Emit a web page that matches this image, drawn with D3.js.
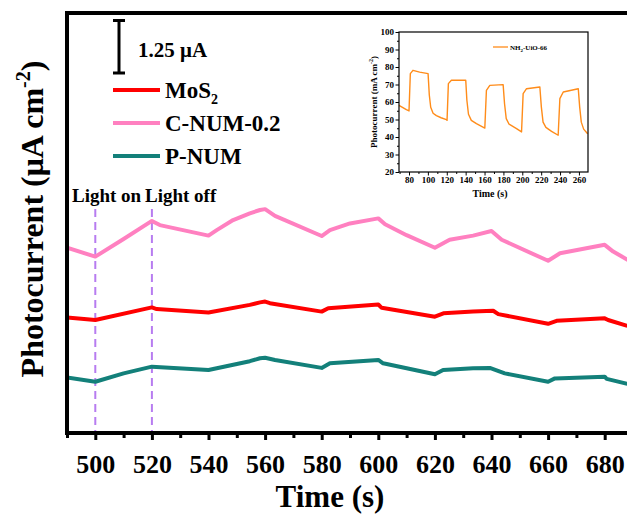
<!DOCTYPE html>
<html>
<head>
<meta charset="utf-8">
<script src="https://cdn.jsdelivr.net/npm/d3@7/dist/d3.min.js"></script>
<style>
body { margin: 0; background: #fff; }
svg { display: block; font-family: "Liberation Serif", "Times New Roman", serif; font-weight: bold; }
</style>
</head>
<body>
<svg width="627" height="514"></svg>
<script>
// main chart, time (s) and photocurrent (uA cm-2, stacked offsets)
var cnumTime  = [490, 500, 510, 520, 522.8, 540, 542.9, 548.7, 554.6, 558.2, 560, 563.5, 580, 582.9, 590, 600, 602.4, 610, 620, 625.2, 633.5, 640, 643.6, 660, 664.2, 680, 683, 688.2];
var cnumValue = [4.41, 4.20, 4.62, 5.05, 4.95, 4.70, 4.83, 5.07, 5.23, 5.31, 5.33, 5.17, 4.69, 4.83, 4.99, 5.11, 4.97, 4.71, 4.41, 4.60, 4.70, 4.81, 4.60, 4.10, 4.28, 4.48, 4.32, 4.12];

var mosTime  = [490, 500, 520, 521.7, 540, 554.6, 558.2, 560, 561.7, 580, 582.3, 600, 601.2, 620, 623, 633.5, 640.6, 642.4, 660, 663, 680, 681.2, 688];
var mosValue = [2.75, 2.69, 2.99, 2.95, 2.87, 3.05, 3.11, 3.13, 3.09, 2.89, 2.97, 3.06, 2.98, 2.77, 2.85, 2.89, 2.91, 2.83, 2.60, 2.67, 2.73, 2.69, 2.55];

var pnumTime  = [490, 500, 510, 520, 540, 554.6, 558.2, 560, 563.5, 580, 582.9, 600, 601.7, 620, 622.9, 633.5, 639.4, 644.7, 660, 662.4, 680, 680.7, 688];
var pnumValue = [1.32, 1.22, 1.42, 1.58, 1.50, 1.71, 1.78, 1.79, 1.74, 1.55, 1.66, 1.74, 1.66, 1.40, 1.50, 1.54, 1.55, 1.42, 1.22, 1.30, 1.34, 1.29, 1.17];

var lightTimes = [500, 520];
var lightLabels = ["Light on", "Light off"];
var xTicks = [500, 520, 540, 560, 580, 600, 620, 640, 660, 680];
var scaleBar = 1.25;

// inset: NH2-UiO-66, time (s) and photocurrent (mA cm-2)
var uioTime  = [69.4, 77.2, 80, 81.4, 84.2, 91.3, 100.2, 101.5, 103, 105.5, 109, 114, 119.6, 120.3, 121.7, 124.9, 140.1, 141.3, 143, 146, 151.4, 160.3, 162, 165.6, 179.7, 181.2, 183, 186, 193.9, 199.2, 200.9, 204.5, 218.6, 220.2, 222, 225, 231, 238, 239.8, 243.4, 259.3, 260.8, 262.5, 265, 269.2];
var uioValue = [58.1, 55.6, 54.9, 76.2, 78.1, 77.1, 76.2, 64, 57, 53.6, 52.2, 51, 49.9, 49.5, 70.5, 72.4, 72.4, 61, 53, 49.5, 47.6, 45.1, 66.7, 69.5, 69.9, 59, 50.5, 47.3, 44.8, 42.9, 64.8, 67.6, 68.6, 57.1, 48.5, 45.5, 43.2, 41, 61.9, 65.7, 67.6, 57.1, 48.5, 44.5, 41.9];
var insetXTicks = [80, 100, 120, 140, 160, 180, 200, 220, 240, 260];
var insetYTicks = [20, 30, 40, 50, 60, 70, 80, 90, 100];

var series = [
  {name: "MoS", sub: "2", time: mosTime, value: mosValue, color: "#ff0000"},
  {name: "C-NUM-0.2", sub: "", time: cnumTime, value: cnumValue, color: "#ff80c0"},
  {name: "P-NUM", sub: "", time: pnumTime, value: pnumValue, color: "#13807a"}
];

var svg = d3.select("svg");

// main scales, right end of the frame runs past the window
var x = d3.scaleLinear().domain([490, 690]).range([67, 633]);
var y = d3.scaleLinear().domain([0, 10]).range([433, 13]);

svg.append("clipPath").attr("id", "plotClip")
  .append("rect")
  .attr("x", x(490)).attr("y", y(10))
  .attr("width", x(690) - x(490)).attr("height", y(0) - y(10));

// light on / off markers
svg.selectAll(".light")
  .data(lightTimes)
  .enter().append("line")
  .attr("class", "light")
  .attr("x1", function(d){ return x(d); })
  .attr("x2", function(d){ return x(d); })
  .attr("y1", 209)
  .attr("y2", y(0))
  .attr("stroke", "#b77cf0")
  .attr("stroke-width", 2)
  .attr("stroke-dasharray", "8,5");

svg.selectAll(".lightLabel")
  .data(lightLabels)
  .enter().append("text")
  .attr("class", "lightLabel")
  .attr("x", function(d, i){ return i == 0 ? 72 : 145; })
  .attr("y", 202)
  .style("font-size", "19px")
  .text(function(d){ return d; });

// data lines
var line = d3.line()
  .x(function(d){ return x(d[0]); })
  .y(function(d){ return y(d[1]); });

svg.append("g").attr("clip-path", "url(#plotClip)")
  .selectAll("path")
  .data(series)
  .enter().append("path")
  .attr("fill", "none")
  .attr("stroke", function(d){ return d.color; })
  .attr("stroke-width", 4)
  .attr("stroke-linejoin", "round")
  .attr("d", function(d){ return line(d3.zip(d.time, d.value)); });

// frame
svg.append("rect")
  .attr("x", x(490)).attr("y", y(10))
  .attr("width", x(690) - x(490)).attr("height", y(0) - y(10))
  .attr("fill", "none")
  .attr("stroke", "#000")
  .attr("stroke-width", 4);

// x axis, major and minor ticks
var minorAxis = svg.append("g")
  .attr("transform", "translate(0," + y(0) + ")")
  .call(d3.axisBottom(x).tickValues(d3.range(490, 700, 20)).tickSize(5).tickFormat(""));
var xAxis = svg.append("g")
  .attr("transform", "translate(0," + y(0) + ")")
  .call(d3.axisBottom(x).tickValues(xTicks).tickSize(7));
[minorAxis, xAxis].forEach(function(g){
  g.select(".domain").remove();
  g.selectAll("line").attr("stroke", "#000").attr("stroke-width", 3);
});
xAxis.selectAll("text")
  .attr("y", 40).attr("dy", null)
  .attr("fill", "#000")
  .style("font-size", "26px")
  .style("font-family", "Liberation Serif")
  .style("font-weight", "bold");

svg.append("text")
  .attr("x", 330).attr("y", 507)
  .attr("text-anchor", "middle")
  .style("font-size", "31px")
  .text("Time (s)");

var yLabel = svg.append("text")
  .attr("transform", "translate(43,219) rotate(-90)")
  .attr("text-anchor", "middle")
  .style("font-size", "32px");
yLabel.append("tspan").text("Photocurrent (μA cm");
yLabel.append("tspan").attr("dy", -13).style("font-size", "20px").text("-2");
yLabel.append("tspan").attr("dy", 13).text(")");

// scale bar
var barBottom = 73;
var barTop = barBottom - (y(0) - y(scaleBar));
var bar = svg.append("g").attr("stroke", "#000").attr("stroke-width", 3);
bar.append("line").attr("x1", 119).attr("x2", 119).attr("y1", barTop).attr("y2", barBottom);
bar.append("line").attr("x1", 113).attr("x2", 125).attr("y1", barTop).attr("y2", barTop);
bar.append("line").attr("x1", 113).attr("x2", 125).attr("y1", barBottom).attr("y2", barBottom);
svg.append("text")
  .attr("x", 138).attr("y", 57)
  .style("font-size", "21px")
  .text(scaleBar + " μA");

// legend
var legendG = svg.selectAll(".legend")
  .data(series)
  .enter().append("g")
  .attr("class", "legend")
  .attr("transform", function(d, i){
    return "translate(113," + [90, 123, 156][i] + ")";
  });
legendG.append("line")
  .attr("x1", 0).attr("x2", 47)
  .attr("stroke", function(d){ return d.color; })
  .attr("stroke-width", 4);
var legendText = legendG.append("text")
  .attr("x", 52).attr("y", 8)
  .style("font-size", "23px");
legendText.append("tspan").text(function(d){ return d.name; });
legendText.append("tspan")
  .attr("dy", 6)
  .style("font-size", "14px")
  .text(function(d){ return d.sub; });

// inset chart
var ix = d3.scaleLinear().domain([69.4, 269.6]).range([399, 588]);
var iy = d3.scaleLinear().domain([20, 100]).range([172, 32]);
var inset = svg.append("g");

inset.append("path")
  .attr("fill", "none")
  .attr("stroke", "#ff8c1a")
  .attr("stroke-width", 1.4)
  .attr("stroke-linejoin", "round")
  .attr("d", d3.line()
    .x(function(d){ return ix(d[0]); })
    .y(function(d){ return iy(d[1]); })(d3.zip(uioTime, uioValue)));

inset.append("rect")
  .attr("x", 399).attr("y", 32)
  .attr("width", 189).attr("height", 140)
  .attr("fill", "none")
  .attr("stroke", "#000")
  .attr("stroke-width", 1.2);

var ixMinor = inset.append("g").attr("transform", "translate(0,172)")
  .call(d3.axisBottom(ix).tickValues(d3.range(70, 270, 20)).tickSize(2).tickFormat(""));
var ixAxis = inset.append("g").attr("transform", "translate(0,172)")
  .call(d3.axisBottom(ix).tickValues(insetXTicks).tickSize(3.5).tickPadding(1.5));
var iyMinor = inset.append("g").attr("transform", "translate(399,0)")
  .call(d3.axisLeft(iy).tickValues(d3.range(25, 100, 10)).tickSize(2).tickFormat(""));
var iyAxis = inset.append("g").attr("transform", "translate(399,0)")
  .call(d3.axisLeft(iy).tickValues(insetYTicks).tickSize(3.5).tickPadding(1.5));
[ixMinor, ixAxis, iyMinor, iyAxis].forEach(function(g){
  g.select(".domain").remove();
  g.selectAll("line").attr("stroke", "#000").attr("stroke-width", 1);
  g.selectAll("text")
    .attr("fill", "#000")
    .style("font-size", "9px")
    .style("font-family", "Liberation Serif")
    .style("font-weight", "bold");
});

inset.append("text")
  .attr("x", 490).attr("y", 197)
  .attr("text-anchor", "middle")
  .style("font-size", "10px")
  .text("Time (s)");

var iyLabel = inset.append("text")
  .attr("transform", "translate(377,102) rotate(-90)")
  .attr("text-anchor", "middle")
  .style("font-size", "9px");
iyLabel.append("tspan").text("Photocurrent (mA cm");
iyLabel.append("tspan").attr("dy", -4).style("font-size", "6px").text("-2");
iyLabel.append("tspan").attr("dy", 4).text(")");

// inset legend
inset.append("line")
  .attr("x1", 493).attr("x2", 508)
  .attr("y1", 47).attr("y2", 47)
  .attr("stroke", "#ff8c1a")
  .attr("stroke-width", 1.3);
var iLegend = inset.append("text")
  .attr("x", 510).attr("y", 49.5)
  .style("font-size", "7px");
iLegend.append("tspan").text("NH");
iLegend.append("tspan").attr("dy", 2).style("font-size", "5px").text("2");
iLegend.append("tspan").attr("dy", -2).text("-UiO-66");
</script>
</body>
</html>
